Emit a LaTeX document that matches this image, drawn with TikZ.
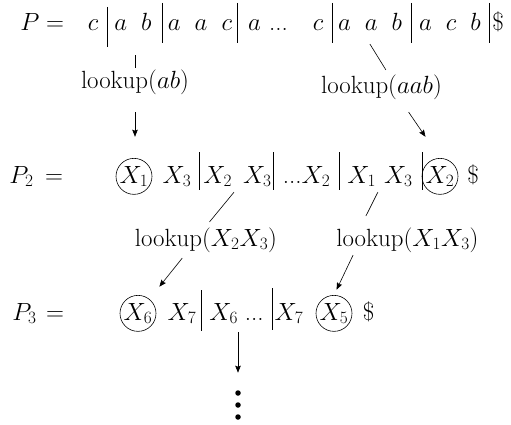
\documentclass[tikz,border=0pt]{standalone}
\usetikzlibrary{arrows.meta}

\newcommand{\gp}{\hspace{14pt}}

\begin{document}
\begin{tikzpicture}[
    x=1pt, y=-1pt,
    sym/.style={anchor=base, inner sep=1pt, font=\fontsize{25}{30}\selectfont},
    symbox/.style={sym, circle, draw, line width=0.6pt, minimum size=36pt, inner sep=0pt},
    dot/.style={circle, fill, inner sep=0pt, minimum size=5.5pt},
    sepline/.style={line width=0.6pt},
    link/.style={line width=0.6pt},
    directed/.style={-{Stealth[length=7pt, width=5.5pt, inset=1pt]}, line width=0.6pt}
]
    \useasboundingbox (0,0) rectangle (511,425);

    % Row P
    \node[sym] (P) at (30,31) {$P$};
    \node[sym] (eqA) at (55,31) {$=$};
    \node[sym] (c1) at (93,31) {$c$};
    \node[sym] (ab) at (133,31) {$a\gp b$};
    \node[sym] (aac) at (200,31) {$a\gp a\gp c$};
    \node[sym] (adots) at (268,31) {$a$\hspace{8pt}...};
    \node[sym] (c2) at (318,31) {$c$};
    \node[sym] (aab) at (370,31) {$a\gp a\gp b$};
    \node[sym] (acb) at (450,31) {$a\gp c\gp b$};
    \node[sym] (endA) at (498,31) {\$};

    \draw[sepline] (107,7) -- (107,47);
    \draw[sepline] (162,3) -- (162,43);
    \draw[sepline] (237,3) -- (237,43);
    \draw[sepline] (332,3) -- (332,43);
    \draw[sepline] (411,3) -- (411,43);
    \draw[sepline] (489,3) -- (489,43);

    % Lookups of P
    \node[sym] (lk1) at (135,89) {$\mathrm{lookup}(ab)$};
    \node[sym] (lk2) at (381.5,94) {$\mathrm{lookup}(aab)$};

    % Row P_2
    \node[sym] (P2) at (21.5,183) {$P_2$};
    \node[sym] (eqB) at (54,183) {$=$};
    \node[symbox] (X1) at (134,183) {$X_1$};
    \node[sym] (X3a) at (177,183) {$X_3$};
    \node[sym] (X2X3) at (237.5,183) {$X_2\hspace{11pt}X_3$};
    \node[sym] (dX2) at (306.5,183) {...$X_2$};
    \node[sym] (X1X3) at (380,183) {$X_1\hspace{8pt}X_3$};
    \node[symbox] (X2) at (440,183) {$X_2$};
    \node[sym] (endB) at (473,183) {\$};

    \draw[sepline] (199,152) -- (199,190);
    \draw[sepline] (273,152) -- (273,190);
    \draw[sepline] (339,152) -- (339,190);
    \draw[sepline] (422,152) -- (422,190);

    % Lookups of P_2
    \node[sym] (lk3) at (206,246) {$\mathrm{lookup}(X_2X_3)$};
    \node[sym] (lk4) at (407.5,246) {$\mathrm{lookup}(X_1X_3)$};

    % Row P_3
    \node[sym] (P3) at (24.5,320) {$P_3$};
    \node[sym] (eqC) at (55,320) {$=$};
    \node[symbox] (X6) at (138,320) {$X_6$};
    \node[sym] (X7a) at (182,320) {$X_7$};
    \node[sym] (X6d) at (236.5,320) {$X_6$\hspace{7pt}...};
    \node[sym] (X7b) at (289,320) {$X_7$};
    \node[symbox] (X5) at (334,320) {$X_5$};
    \node[sym] (endC) at (368.5,320) {\$};

    \draw[sepline] (201,290) -- (201,331);
    \draw[sepline] (272,288) -- (272,330);

    % Continuation
    \node[dot] (more1) at (238,393) {};
    \node[dot] (more2) at (238,405) {};
    \node[dot] (more3) at (238,417) {};

    % Connectors
    \draw[link, shorten <=1.3pt, shorten >=23pt] (lk1.north) -- (lk1.north |- ab.south);
    \draw[directed, shorten <=15.7pt, shorten >=21.3pt] (lk1.south) -- (lk1.south |- X1.north);
    \draw[link, shorten <=14pt, shorten >=5pt] ([xshift=-7.4pt]aab.south) -- ([xshift=7pt]lk2.north);
    \draw[directed, shorten <=13pt, shorten >=25.7pt] ([xshift=19.8pt]lk2.south) -- (X2.north);
    \draw[link, shorten <=5.5pt, shorten >=5.5pt] (X2X3.south) -- (lk3.north);
    \draw[link, shorten <=4.7pt, shorten >=11.4pt] (X1X3.south) -- ([xshift=-46.7pt]lk4.north);
    \draw[directed, shorten <=6pt, shorten >=15.8pt] ([xshift=-20pt]lk3.south) -- (X6);
    \draw[directed, shorten <=1.9pt, shorten >=5.9pt] ([xshift=-53.6pt]lk4.south) -- (X5.north);
    \draw[directed, shorten <=7.3pt, shorten >=17.3pt] (more1.north |- X6d.south) -- (more1.north);
\end{tikzpicture}
\end{document}
